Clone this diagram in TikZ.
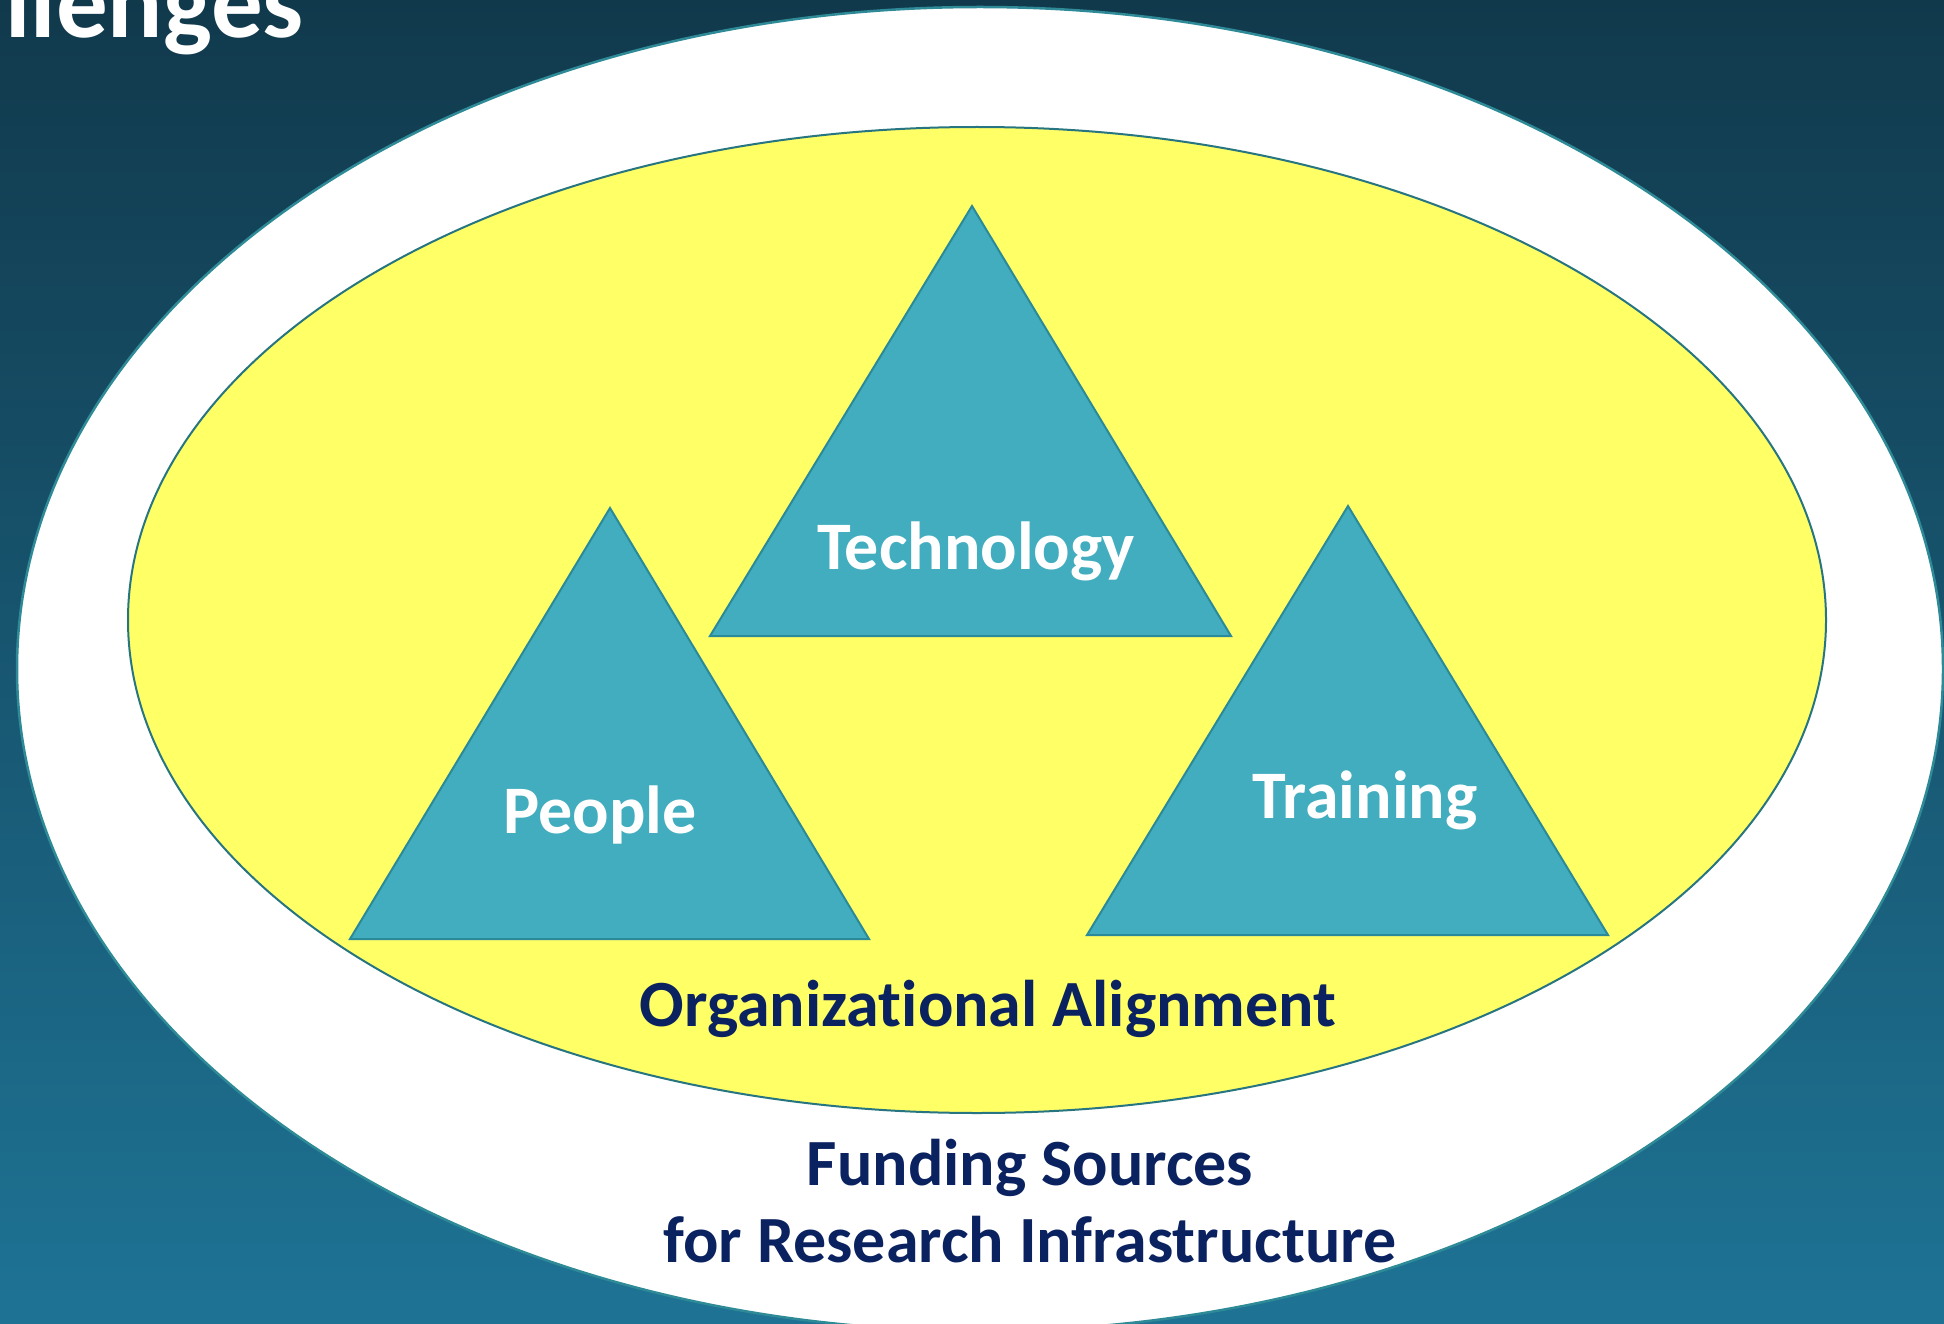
\documentclass[tikz,border=0pt]{standalone}
\usepackage{fontspec}
\setmainfont[Ligatures=NoCommon]{Carlito}
\definecolor{bgtop}{HTML}{11394C}
\definecolor{bgbot}{HTML}{1E7395}
\definecolor{rimline}{HTML}{2E8A96}
\definecolor{yel}{HTML}{FFFF66}
\definecolor{tri}{HTML}{41ADBE}
\definecolor{triline}{HTML}{2B8A99}
\definecolor{navy}{HTML}{0B2260}
\tikzset{
  tribox/.style={fill=tri,draw=triline,line width=2pt,line join=miter},
  trilabel/.style={text=white,font=\bfseries\fontsize{68}{72}\selectfont,inner sep=0pt},
  navylabel/.style={text=navy,font=\bfseries\fontsize{66}{77}\selectfont,inner sep=0pt,align=center},
}
\begin{document}
\begin{tikzpicture}[x=1pt,y=-1pt]
\useasboundingbox (0,0) rectangle (1944,1324);
\clip (0,0) rectangle (1944,1324);
% background
\shade[shading=axis,shading angle=160,top color=bgtop,bottom color=bgbot] (0,0) rectangle (1944,1324);
% title remnant
\node[anchor=base east,text=white,font=\bfseries\fontsize{103}{108}\selectfont,inner sep=0pt] (title) at (304,38) {Challenges};
% outer ellipse
\draw[fill=white,draw=rimline,line width=2.5pt] (980,669) ellipse [x radius=963,y radius=662];
% inner ellipse
\draw[fill=yel,draw=rimline!85!black,line width=2pt] (977,620) ellipse [x radius=849,y radius=493];
% triangles
\draw[tribox] (972,206) -- (710,636) -- (1231,636) -- cycle;
\draw[tribox] (610,508) -- (350,939) -- (869,939) -- cycle;
\draw[tribox] (1348,506) -- (1087,935) -- (1608,935) -- cycle;
% labels
\node[trilabel] (tech) at (976,551) {Technology};
\node[trilabel] (people) at (600,815) {People};
\node[trilabel] (train) at (1365,800) {Training};
\node[navylabel] (org) at (988,1009) {Organizational Alignment};
\node[navylabel] (fund) at (1030,1201) {Funding Sources\\for Research Infrastructure};
\end{tikzpicture}
\end{document}
